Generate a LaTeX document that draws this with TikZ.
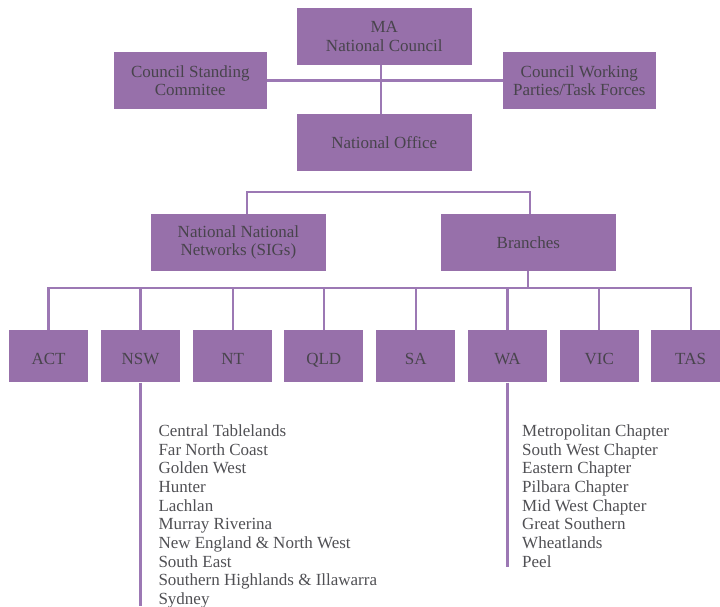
\documentclass[tikz,border=0pt]{standalone}
\usepackage{fontspec}
\setmainfont{Liberation Serif}
\definecolor{boxfill}{RGB}{151,112,170}
\definecolor{linecol}{RGB}{156,120,180}
\definecolor{txt}{RGB}{72,68,76}
\definecolor{listtxt}{RGB}{80,80,84}
\begin{document}
\begin{tikzpicture}[x=1pt,y=-1pt,
  orgbox/.style={rectangle, fill=boxfill, inner sep=0pt, align=center,
    text=txt, font=\fontsize{17}{18.6}\selectfont},
  bigbox/.style={orgbox, minimum width=175pt, minimum height=56.5pt},
  sidebox/.style={orgbox, minimum width=153pt, minimum height=56.5pt},
  statebox/.style={orgbox, minimum width=79pt, minimum height=52.5pt,
    text height=16.2pt, text depth=0pt},
  conn/.style={draw=linecol, line width=2.2pt},
  listitem/.style={anchor=base west, inner sep=0pt, text=listtxt,
    font=\fontsize{17}{18.6}\selectfont}]
\path[use as bounding box, clip] (0,0) rectangle (720,606);

% top level
\node[bigbox] (ma) at (384.3,36.3) {MA\\National Council};
\node[sidebox] (csc) at (190.3,80.5) {Council Standing\\Commitee};
\node[sidebox] (cwp) at (579.3,80.5) {Council Working\\Parties/Task Forces};
\node[bigbox] (no) at (384.3,142.3) {National Office};

\draw[conn] (csc.east) -- (cwp.west);
\draw[conn] ([xshift=-3.3pt]ma.south) -- ([xshift=-3.3pt]no.north);

% second level
\node[bigbox] (nnn) at (238.4,242.4) {National National\\Networks (SIGs)};
\node[bigbox, minimum width=174.5pt] (br) at (528.3,242.4) {Branches};

\coordinate (topbar) at (0,192.3);
\coordinate (nnnT) at ([xshift=8.6pt]nnn.north);
\coordinate (brT) at ([xshift=2pt]br.north);
\draw[conn, line join=miter] (nnnT) -- (nnnT |- topbar) -- (brT |- topbar) -- (brT);

% states
\node[statebox] (act) at (48.5,356.2) {ACT};
\node[statebox] (nsw) at (140.5,356.2) {NSW};
\node[statebox] (nt)  at (232.7,356.2) {NT};
\node[statebox] (qld) at (323.8,356.2) {QLD};
\node[statebox] (sa)  at (415.8,356.2) {SA};
\node[statebox] (wa)  at (507.5,356.2) {WA};
\node[statebox] (vic) at (599.3,356.2) {VIC};
\node[statebox] (tas) at (690.6,356.2) {TAS};

\coordinate (bar) at (0,287.6);
\draw[conn, line cap=rect] (act.north |- bar) -- (tas.north |- bar);
\draw[conn] (br.south) -- (br.south |- bar);
\foreach \s in {act,nsw,nt,qld,sa,wa,vic,tas}
  \draw[conn] (\s.north |- bar) -- (\s.north);

% lists
\coordinate (nswend) at (0,606);
\coordinate (waend) at (0,566.5);
\draw[conn] (nsw.south) -- (nsw.south |- nswend);
\draw[conn] (wa.south) -- (wa.south |- waend);

\foreach \t [count=\i] in {Central Tablelands, Far North Coast, Golden West,
  Hunter, Lachlan, Murray Riverina, New England \& North West, South East,
  Southern Highlands \& Illawarra, Sydney}
  \node[listitem] (nswl\i) at (158.3, 436.6+18.65*\i-18.65) {\t};

\foreach \t [count=\i] in {Metropolitan Chapter, South West Chapter,
  Eastern Chapter, Pilbara Chapter, Mid West Chapter, Great Southern,
  Wheatlands, Peel}
  \node[listitem] (wal\i) at (522, 436.6+18.65*\i-18.65) {\t};
\end{tikzpicture}
\end{document}
